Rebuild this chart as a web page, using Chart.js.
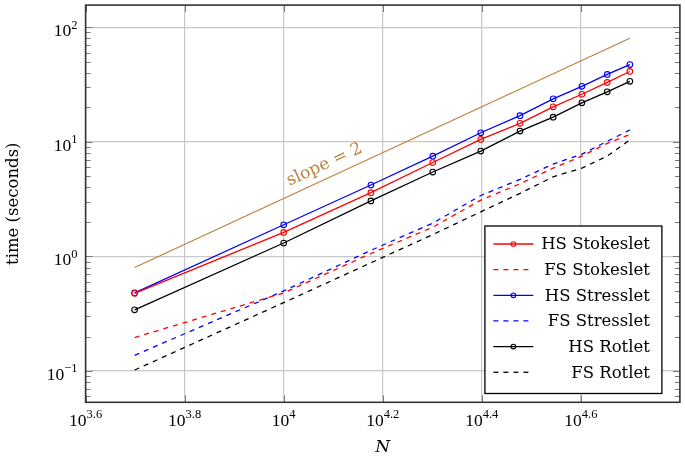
<!DOCTYPE html>
<html>
<head>
<meta charset="utf-8">
<script src="https://cdn.jsdelivr.net/npm/chart.js@4.4.1/dist/chart.umd.min.js"></script>
<style>
  html, body { margin: 0; padding: 0; background: #fff; }
</style>
</head>
<body>
<canvas id="timeChart" width="685" height="458"></canvas>
<script>
// problem sizes
const N = [5000, 10000, 15000, 20000, 25000, 30000, 35000, 40000, 45000, 50000]

// run times in seconds
const hsStokeslet = [0.476, 1.62, 3.6, 6.6, 10.5, 14.5, 20.2, 26.0, 33.0, 41.1]
const fsStokeslet = [0.196, 0.48, 1.06, 1.8, 3.1, 4.3, 5.9, 7.5, 9.7, 11.6]
const hsStresslet = [0.48, 1.89, 4.2, 7.5, 12.0, 16.9, 23.7, 30.5, 38.7, 47.2]
const fsStresslet = [0.137, 0.5, 1.13, 1.95, 3.4, 4.7, 6.4, 7.8, 10.1, 12.7]
const hsRotlet = [0.342, 1.31, 3.05, 5.45, 8.3, 12.4, 16.4, 21.9, 27.3, 33.7]
const fsRotlet = [0.102, 0.395, 0.88, 1.55, 2.45, 3.55, 4.95, 5.9, 7.5, 10.4]

// reference line of slope 2
const slopeN = [5000, 50000]
const slopeT = [0.8, 80]

// axis ticks (exponents of 10)
const xTickExp = [3.6, 3.8, 4, 4.2, 4.4, 4.6]
const xTickText = ['3.6', '3.8', '4', '4.2', '4.4', '4.6']
const yTickExp = [-1, 0, 1, 2]
const yTickText = ['\u22121', '0', '1', '2']

const textFont = '"DejaVu Serif", "Liberation Serif", serif'
const numFont = '"Liberation Serif", "DejaVu Serif", serif'
const brown = '#bf8040'

function pts(xs, ys) {
  return xs.map((x, i) => ({x: x, y: ys[i]}))
}

function solid(label, color, values) {
  return {
    label: label, data: pts(N, values),
    borderColor: color, backgroundColor: color, borderWidth: 1.3,
    pointRadius: 2.8, pointBorderWidth: 1.1, pointBorderColor: color,
    pointBackgroundColor: 'rgba(255,255,255,0)', pointStyle: 'circle'
  }
}
function dashed(label, color, values) {
  return {
    label: label, data: pts(N, values),
    borderColor: color, backgroundColor: color, borderWidth: 1.3,
    borderDash: [5, 5], pointRadius: 0
  }
}

// superscript tick labels, inward ticks, frame, legend and slope note
const pgfLook = {
  id: 'pgfLook',
  afterDatasetsDraw(chart) {
    const ctx = chart.ctx
    const a = chart.chartArea
    const xs = chart.scales.x
    const ys = chart.scales.y
    ctx.save()

    // ticks
    ctx.strokeStyle = '#7a7a7a'
    ctx.lineWidth = 1
    ctx.beginPath()
    xTickExp.forEach(e => {
      const px = Math.round(xs.getPixelForValue(Math.pow(10, e))) + 0.5
      ctx.moveTo(px, a.bottom); ctx.lineTo(px, a.bottom - 7)
      ctx.moveTo(px, a.top); ctx.lineTo(px, a.top + 7)
    })
    for (let d = -2; d <= 2; d++) {
      for (let m = 1; m <= 9; m++) {
        const v = m * Math.pow(10, d)
        if (v < ys.min || v > ys.max) continue
        const py = Math.round(ys.getPixelForValue(v)) + 0.5
        const len = m === 1 ? 7 : 5
        ctx.moveTo(a.left, py); ctx.lineTo(a.left + len, py)
        ctx.moveTo(a.right, py); ctx.lineTo(a.right - len, py)
      }
    }
    ctx.stroke()

    // frame
    ctx.strokeStyle = '#333333'
    ctx.lineWidth = 1.6
    ctx.strokeRect(a.left, a.top, a.right - a.left, a.bottom - a.top)

    // tick labels
    ctx.fillStyle = '#000'
    ctx.textBaseline = 'alphabetic'
    const big = '17.5px ' + numFont
    const small = '12.5px ' + numFont
    xTickExp.forEach((e, i) => {
      const px = xs.getPixelForValue(Math.pow(10, e))
      ctx.font = big
      const w1 = ctx.measureText('10').width
      ctx.font = small
      const w2 = ctx.measureText(xTickText[i]).width
      const x0 = px - (w1 + w2) / 2
      ctx.textAlign = 'left'
      ctx.font = big
      ctx.fillText('10', x0, a.bottom + 23.7)
      ctx.font = small
      ctx.fillText(xTickText[i], x0 + w1, a.bottom + 15.7)
    })
    yTickExp.forEach((e, i) => {
      const py = ys.getPixelForValue(Math.pow(10, e))
      ctx.font = small
      const w2 = ctx.measureText(yTickText[i]).width
      const xr = a.left - 8
      ctx.textAlign = 'right'
      ctx.fillText(yTickText[i], xr, py + 1.3)
      ctx.font = big
      ctx.fillText('10', xr - w2, py + 8.8)
    })

    // slope note along the reference line
    const sl = chart.getDatasetMeta(6).data
    const p0 = sl[0], p1 = sl[1]
    const ang = Math.atan2(p1.y - p0.y, p1.x - p0.x)
    const t = 0.395
    const cx = p0.x + (p1.x - p0.x) * t
    const cy = p0.y + (p1.y - p0.y) * t
    ctx.translate(cx, cy)
    ctx.rotate(ang)
    ctx.font = '17px ' + textFont
    ctx.fillStyle = brown
    ctx.textAlign = 'center'
    ctx.fillText('slope = 2', 0, -9)
    ctx.setTransform(1, 0, 0, 1, 0, 0)

    // legend box
    const bw = 177, bh = 167.5
    const bx = a.right - 18 - bw
    const by = a.bottom - 8.8 - bh
    ctx.fillStyle = '#fff'
    ctx.fillRect(bx, by, bw, bh)
    ctx.strokeStyle = '#000'
    ctx.lineWidth = 1.3
    ctx.strokeRect(bx, by, bw, bh)
    ctx.font = '16.5px ' + textFont
    ctx.textAlign = 'right'
    ctx.textBaseline = 'middle'
    chart.data.datasets.slice(0, 6).forEach((ds, i) => {
      const yy = by + 18 + i * 25.65
      ctx.strokeStyle = ds.borderColor
      ctx.lineWidth = 1.3
      ctx.setLineDash(ds.borderDash || [])
      ctx.beginPath()
      ctx.moveTo(bx + 8.5, yy); ctx.lineTo(bx + 48.5, yy)
      ctx.stroke()
      ctx.setLineDash([])
      if (ds.pointRadius > 0) {
        ctx.beginPath()
        ctx.lineWidth = 1.1
        ctx.arc(bx + 28.5, yy, 2.3, 0, Math.PI * 2)
        ctx.stroke()
      }
      ctx.fillStyle = '#000'
      ctx.fillText(ds.label, bx + 165, yy + 1)
    })
    ctx.restore()
  }
}

new Chart(document.getElementById('timeChart'), {
  type: 'line',
  data: {
    datasets: [
      solid('HS Stokeslet', '#ff0000', hsStokeslet),
      dashed('FS Stokeslet', '#ff0000', fsStokeslet),
      solid('HS Stresslet', '#0000ff', hsStresslet),
      dashed('FS Stresslet', '#0000ff', fsStresslet),
      solid('HS Rotlet', '#000000', hsRotlet),
      dashed('FS Rotlet', '#000000', fsRotlet),
      {label: 'slope = 2', data: pts(slopeN, slopeT), borderColor: brown,
       borderWidth: 1.2, pointRadius: 0}
    ]
  },
  options: {
    responsive: false,
    animation: false,
    layout: {padding: {top: 1, right: 1, bottom: 0, left: 0}},
    elements: {line: {tension: 0}},
    plugins: {legend: {display: false}, tooltip: {enabled: false}},
    scales: {
      x: {
        type: 'logarithmic',
        min: Math.pow(10, 3.6), max: Math.pow(10, 4.8),
        afterBuildTicks: s => { s.ticks = xTickExp.map(e => ({value: Math.pow(10, e)})) },
        afterFit: s => { s.height = 55.7 },
        ticks: {display: false},
        grid: {color: '#c8c8c8', lineWidth: 1.2, drawTicks: false},
        border: {display: false},
        title: {display: true, text: 'N', color: '#000', padding: {top: 0, bottom: 0},
                font: {family: textFont, size: 17, style: 'italic'}}
      },
      y: {
        type: 'logarithmic',
        min: Math.pow(10, -1.273), max: Math.pow(10, 2.193),
        afterBuildTicks: s => { s.ticks = yTickExp.map(e => ({value: Math.pow(10, e)})) },
        afterFit: s => { s.width = 85.6 },
        ticks: {display: false},
        grid: {color: '#c8c8c8', lineWidth: 1.2, drawTicks: false},
        border: {display: false},
        title: {display: true, text: 'time (seconds)', color: '#000', padding: {top: 4, bottom: 0},
                font: {family: textFont, size: 16.5}}
      }
    }
  },
  plugins: [pgfLook]
})
</script>
</body>
</html>
